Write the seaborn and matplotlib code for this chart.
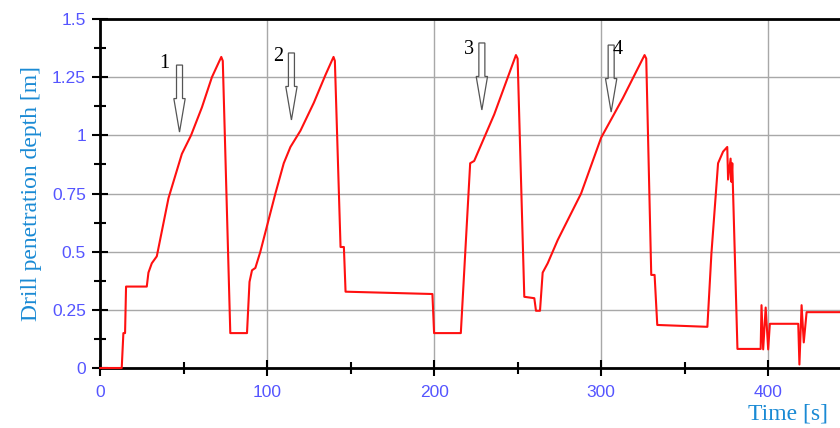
import numpy as np
import pandas as pd
import matplotlib
matplotlib.use("Agg")
import matplotlib.pyplot as plt
import seaborn as sns
from matplotlib.ticker import FixedLocator, FixedFormatter, MultipleLocator
from matplotlib.patches import FancyArrow

# ---- data ----
time_s = [0, 13, 14, 15, 15.6, 28, 29, 31, 34, 41, 49, 54.5, 61, 67, 72.6, 73.5,
          78, 88, 89.5, 91, 93, 96, 105, 110, 114, 120, 128, 135, 139.8, 140.6,
          144, 146, 147, 199, 200, 216, 221.6, 224, 236, 249, 250,
          254, 260, 261, 263.4, 265, 268, 274, 281, 288, 300, 313, 326, 327,
          330, 332, 333.6, 363.6, 366, 370, 373, 375.5, 376, 377.5, 378, 378.5,
          381.6, 395.5, 396, 397, 398.5, 400, 401, 418, 418.7, 420, 421.3, 423, 444]
depth_m = [0, 0, 0.15, 0.15, 0.35, 0.35, 0.41, 0.45, 0.48, 0.73, 0.92, 1.0, 1.12, 1.25, 1.337, 1.32,
           0.15, 0.15, 0.37, 0.42, 0.43, 0.5, 0.75, 0.88, 0.95, 1.02, 1.14, 1.26, 1.337, 1.32,
           0.52, 0.52, 0.328, 0.318, 0.15, 0.15, 0.88, 0.89, 1.09, 1.345, 1.33,
           0.306, 0.30, 0.246, 0.246, 0.41, 0.45, 0.55, 0.65, 0.75, 0.99, 1.16, 1.345, 1.33,
           0.40, 0.40, 0.185, 0.177, 0.49, 0.88, 0.93, 0.95, 0.81, 0.9, 0.8, 0.88,
           0.082, 0.082, 0.27, 0.08, 0.26, 0.08, 0.19, 0.19, 0.015, 0.27, 0.11, 0.24, 0.24]

y_ticks = [0, 0.25, 0.5, 0.75, 1, 1.25, 1.5]
y_tick_labels = ["0", "0.25", "0.5", "0.75", "1", "1.25", "1.5"]
x_ticks = [0, 100, 200, 300, 400]
x_tick_labels = ["0", "100", "200", "300", "400"]

arrow_labels = ["1", "2", "3", "4"]
arrow_x = [47.6, 114.6, 228.6, 306]
arrow_top = [1.302, 1.354, 1.397, 1.388]
arrow_tip = [1.014, 1.066, 1.109, 1.10]
label_x = [38.4, 106.8, 220.8, 310]
label_y = [1.309, 1.34, 1.37, 1.37]

df = pd.DataFrame({"Time": time_s, "Depth": depth_m})

sns.set_style("white")
plt.rcParams["font.family"] = ["Liberation Sans", "DejaVu Sans"]

fig = plt.figure(figsize=(8.4, 4.28), dpi=100)
ax = fig.add_axes([100 / 840, 1 - 368 / 428, 1 - 100 / 840 + 0.002, (368 - 19) / 428])

sns.lineplot(data=df, x="Time", y="Depth", ax=ax, color="#ff1010", linewidth=1.5,
             estimator=None, sort=False, zorder=5)
for ln in ax.get_lines():
    ln.set_clip_on(False)

ax.set_xlim(0, 444)
ax.set_ylim(0, 1.5)

tick_color = "#5555ff"
label_color = "#1a8ad4"

ax.yaxis.set_major_locator(FixedLocator(y_ticks))
ax.yaxis.set_major_formatter(FixedFormatter(y_tick_labels))
ax.yaxis.set_minor_locator(MultipleLocator(0.125))
ax.xaxis.set_major_locator(FixedLocator(x_ticks))
ax.xaxis.set_major_formatter(FixedFormatter(x_tick_labels))
ax.xaxis.set_minor_locator(MultipleLocator(50))

ax.tick_params(axis="both", which="both", bottom=True, left=True, top=False, right=False)
ax.tick_params(axis="both", which="major", direction="inout", length=12, width=1.5,
               color="black", labelcolor=tick_color, labelsize=12.5)
ax.tick_params(axis="both", which="minor", direction="inout", length=9, width=1.5, color="black")
ax.tick_params(axis="y", which="major", pad=4)
ax.tick_params(axis="x", which="major", pad=6)

ax.grid(True, which="major", color="#a8a8a8", linewidth=1.0)
ax.set_axisbelow(True)

for side in ["left", "bottom", "top"]:
    ax.spines[side].set_visible(True)
    ax.spines[side].set_color("black")
    ax.spines[side].set_linewidth(2.0)
ax.spines["right"].set_visible(False)

ax.set_xlabel("")
ax.set_ylabel("Drill penetration depth [m]", family=["Liberation Serif", "DejaVu Serif"],
              fontsize=17, color=label_color, labelpad=7)
fig.text(0.938, 0.033, "Time [s]", family=["Liberation Serif", "DejaVu Serif"],
         fontsize=17, color=label_color, ha="center", va="center")

for lab, xa, yt, yb, lx, ly in zip(arrow_labels, arrow_x, arrow_top, arrow_tip, label_x, label_y):
    length = yt - yb
    arr = FancyArrow(xa, yt, 0, -length, width=3.6, head_width=6.8, head_length=length * 0.5,
                     length_includes_head=True, facecolor="none", edgecolor="#555555",
                     linewidth=0.9, zorder=6)
    ax.add_patch(arr)
    ax.text(lx, ly, lab, family=["Liberation Serif", "DejaVu Serif"], fontsize=14.5,
            color="black", ha="center", va="center", zorder=7)

fig.savefig("out.png", dpi=100)
